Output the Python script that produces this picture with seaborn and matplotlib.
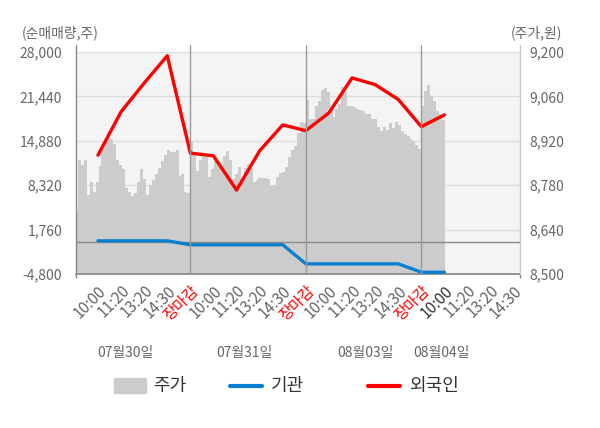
import numpy as np
import matplotlib
matplotlib.use("Agg")
import matplotlib.pyplot as plt
import matplotlib.transforms as mtransforms
from matplotlib.patches import Rectangle
from matplotlib.lines import Line2D
import seaborn as sns

# x axis categories (19 slots) and date labels
tick_labels = ["10:00", "11:20", "13:20", "14:30", "장마감"] * 3 + ["10:00", "11:20", "13:20", "14:30"]
date_labels = ["07월30일", "07월31일", "08월03일", "08월04일"]

# net buying, shares (one point per slot)
foreign = [12760, 19160, 23400, 27450, 13060, 12660, 7600, 13400,
           17230, 16380, 19010, 24170, 23180, 20990, 16970, 18710]
institution = [100, 100, 100, 100, -480, -480, -480, -480,
               -480, -3300, -3300, -3300, -3300, -3300, -4540, -4540]

# intraday price, won
price_0730 = [8700, 8860, 8845, 8860, 8750, 8790, 8760, 8790, 8840, 8900,
              8920, 8930, 8925, 8910, 8860, 8845, 8830, 8770, 8760, 8745,
              8755, 8790, 8830, 8800, 8750, 8780, 8795, 8815, 8835, 8855,
              8875, 8890, 8885, 8885, 8890, 8810, 8815, 8760, 8755]
price_0731 = [8920, 8880, 8825, 8860, 8878, 8870, 8805, 8830, 8862, 8846,
              8840, 8871, 8887, 8860, 8800, 8815, 8837, 8795, 8835, 8846,
              8835, 8789, 8795, 8802, 8802, 8802, 8800, 8778, 8782, 8805,
              8820, 8822, 8837, 8870, 8890, 8905, 8945, 8980, 8975]
price_0803 = [9050, 8990, 8990, 9030, 9045, 9080, 9087, 9075, 9030, 8995,
              9020, 9035, 9090, 9070, 9030, 9030, 9028, 9020, 9018, 9014,
              9005, 9003, 8990, 8988, 8965, 8951, 8965, 8955, 8975, 8960,
              8980, 8970, 8951, 8940, 8936, 8925, 8920, 8906, 8894]
price_0804 = [9030, 9078, 9097, 9062, 9046, 9015, 9005, 8985]

left_ticks = [-4800, 1760, 8320, 14880, 21440, 28000]
right_ticks = [8500, 8640, 8780, 8920, 9060, 9200]

sns.set_theme(style="white")
plt.rcParams['font.family'] = ['Noto Sans CJK KR', 'DejaVu Sans']

fig = plt.figure(figsize=(6, 4.28), dpi=100)
ax = fig.add_axes([76 / 600, 1 - 274 / 428, 444 / 600, 222 / 428])
ax.set_facecolor('#f4f4f4')
ax2 = ax.twinx()

# price area, each day spans 5 slots
step = 5 / 39
px, py = [], []
for d, day in enumerate([price_0730, price_0731, price_0803, price_0804]):
    start = 5 * d - 1
    for i, v in enumerate(day):
        px.append(start + i * step)
        py.append(v)
px.append(px[-1] + step)
py.append(py[-1])
ax.fill_between(px, py, 8500, step='post', color='#cccccc', lw=0, zorder=2)

ax.set_ylim(8500, 9200)
ax.set_yticks(right_ticks)
ax.set_yticklabels([f"{v:,}" for v in right_ticks])
ax.yaxis.tick_right()
for v in right_ticks[1:]:
    ax.axhline(v, color='#dddddd', lw=1, zorder=1)

xlo, xhi = -0.95, 18.27
ax.set_xlim(xlo, xhi)

# lines
slots = np.arange(len(foreign))
ax2.axhline(0, color='#888888', lw=1, zorder=1)
sns.lineplot(x=slots, y=institution, ax=ax2, color='#0a7fcf', lw=2.4, zorder=3)
sns.lineplot(x=slots, y=foreign, ax=ax2, color='#ff0000', lw=2.4, zorder=4)
ax2.set_ylim(-4800, 28000)
ax2.set_yticks(left_ticks)
ax2.set_yticklabels([f"{v:,}" for v in left_ticks])
ax2.yaxis.tick_left()
ax2.set_xlim(xlo, xhi)

# day separators and frame
btrans = mtransforms.blended_transform_factory(ax.transData, ax.transAxes)
for x in [4, 9, 14]:
    ax2.plot([x, x], [0, 1.032], transform=btrans, color='#999999', lw=1, clip_on=False, zorder=5)
ax2.plot([0, 0], [0, 1.032], transform=ax.transAxes, color='#888888', lw=1, clip_on=False)
ax2.plot([1, 1], [0, 1.032], transform=ax.transAxes, color='#cccccc', lw=1, clip_on=False)
for a in (ax, ax2):
    for s in a.spines.values():
        s.set_visible(False)
ax.spines['bottom'].set_visible(True)
ax.spines['bottom'].set_color('#888888')

ax.tick_params(axis='y', length=0, pad=7, labelsize=10, labelcolor='#666666')
ax2.tick_params(axis='y', length=0, pad=10, labelsize=10, labelcolor='#666666')
ax2.set_xticks([])

ax.set_xticks(range(len(tick_labels)))
ax.set_xticklabels(tick_labels, rotation=45, ha='right', rotation_mode='anchor')
ax.tick_params(axis='x', which='major', length=0, pad=6, labelsize=11)
for lab, txt in zip(ax.get_xticklabels(), tick_labels):
    lab.set_color('#ff0000' if txt == "장마감" else '#666666')
ax.get_xticklabels()[15].set_color('#333333')
ax.set_xticks([xlo, 4, 9, 14, xhi], minor=True)
ax.tick_params(axis='x', which='minor', length=3, color='#888888', bottom=True)

for x, t in zip([1.17, 6.36, 11.56, 14.85], date_labels):
    ax.text(x, -0.356, t, transform=btrans, ha='center', va='center',
            fontsize=10, color='#666666')

fig.text(22 / 600, 1 - 33 / 428, "(순매매량,주)", ha='left', va='center', fontsize=10, color='#666666')
fig.text(562 / 600, 1 - 33 / 428, "(주가,원)", ha='right', va='center', fontsize=10, color='#666666')

# legend
ly = 1 - 386 / 428
fig.patches.append(Rectangle((114 / 600, 1 - 393 / 428), 32 / 600, 15 / 428,
                             transform=fig.transFigure, color='#cccccc'))
fig.lines.append(Line2D([230 / 600, 262 / 600], [ly, ly], transform=fig.transFigure, color='#0a7fcf', lw=3))
fig.lines.append(Line2D([368 / 600, 400 / 600], [ly, ly], transform=fig.transFigure, color='#ff0000', lw=3))
for x, t in [(153, "주가"), (271, "기관"), (409, "외국인")]:
    fig.text(x / 600, ly, t, ha='left', va='center', fontsize=13, color='#333333')

fig.savefig("out.png", dpi=100)
